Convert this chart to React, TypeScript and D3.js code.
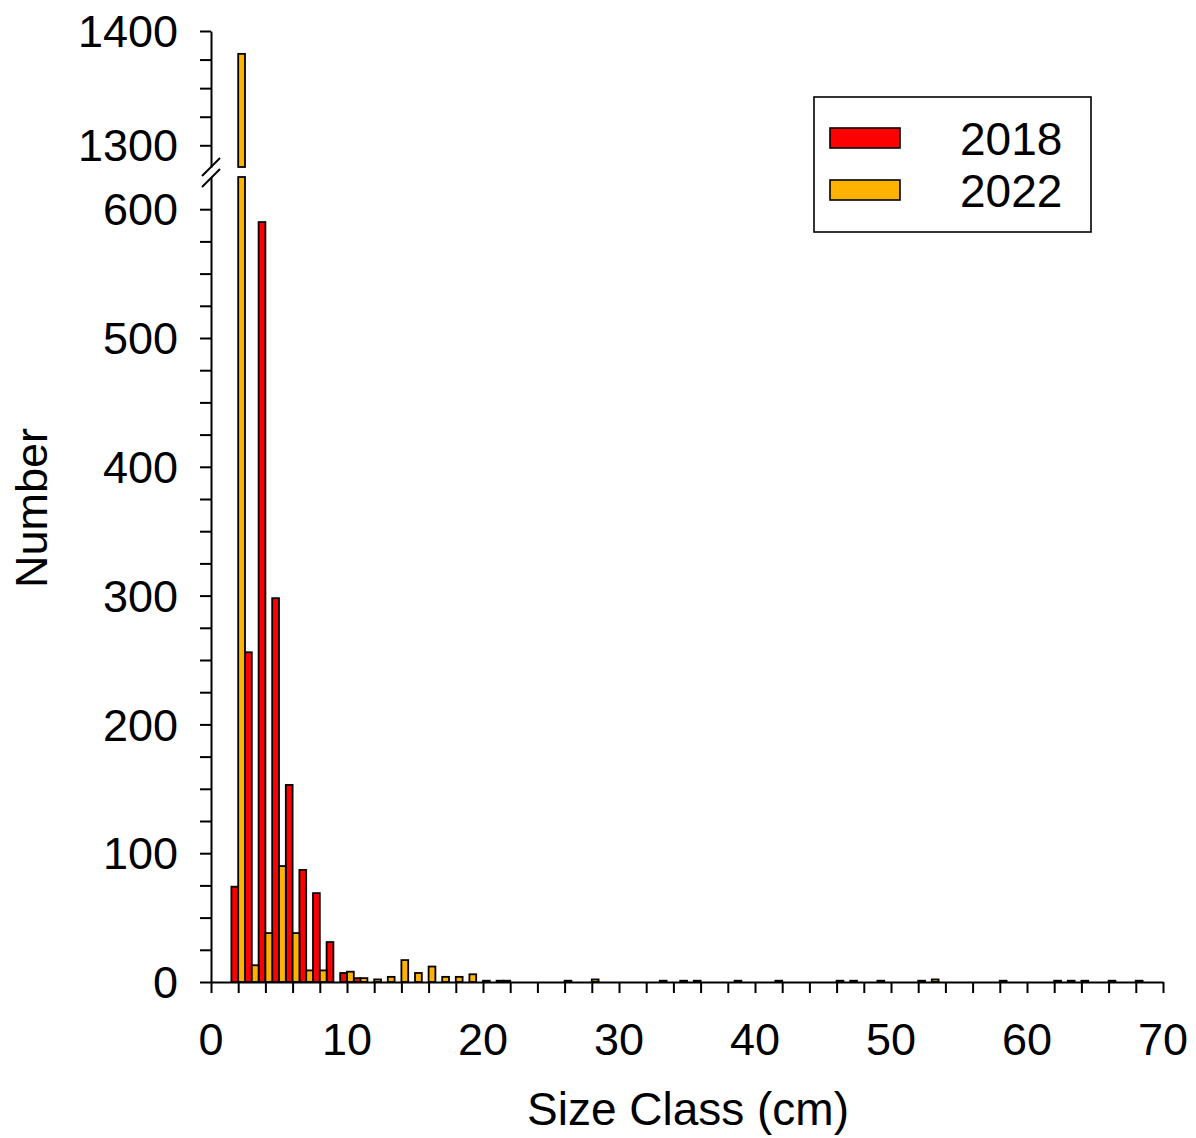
import * as d3 from "d3";
import { useEffect, useRef } from "react";

// size classes (cm) with counts, only non-zero classes listed
const classes2018 = [2, 3, 4, 5, 6, 7, 8, 9, 10, 11, 22, 35, 36, 39, 42];
const counts2018 = [74, 256, 590, 298, 153, 87, 69, 31, 7, 3, 1, 1, 1, 1, 1];

const classes2022 = [2, 3, 4, 5, 6, 7, 8, 10, 11, 12, 13, 14, 15, 16, 17, 18, 19, 20, 21, 26, 28, 33, 46, 47, 49, 52, 53, 58, 62, 63, 64, 66, 68];
const counts2022 = [1380, 13, 38, 90, 38, 9, 9, 8, 3, 2, 4, 17, 7, 12, 4, 4, 6, 1, 1, 1, 2, 1, 1, 1, 1, 1, 2, 1, 1, 1, 1, 1, 1];

const seriesNames = ["2018", "2022"];
const seriesColors = ["#ff0000", "#ffb300"];

const xLabels = [0, 10, 20, 30, 40, 50, 60, 70];
const yLowLabels = [0, 100, 200, 300, 400, 500, 600];
const yHighLabels = [1300, 1400];

export default function App() {
  const ref = useRef<SVGSVGElement | null>(null);

  useEffect(() => {
    const width = 1196;
    const height = 1138;
    const left = 211;
    const right = 1163;
    const bottom = 982;
    const font = "'Liberation Sans', Arial, sans-serif";

    const svg = d3.select(ref.current);
    svg.selectAll("*").remove();
    svg.attr("width", width).attr("height", height);

    const x = d3.scaleLinear().domain([0, 70]).range([left, right]);
    const yLow = d3.scaleLinear().domain([0, 625]).range([bottom, 177]);
    const yHigh = d3.scaleLinear().domain([1281, 1400]).range([167, 31]);

    const bw = 0.5; // each bar half a class wide

    const data2018 = classes2018.map((c, i) => ({ c, v: counts2018[i] }));
    const data2022 = classes2022.map((c, i) => ({ c, v: counts2022[i] }));

    function drawBars(data: { c: number; v: number }[], offset: number, color: string) {
      const g = svg.append("g");
      data.forEach((d) => {
        const x0 = x(d.c + offset);
        const w = x(d.c + offset + bw) - x0;
        const lowTop = yLow(Math.min(d.v, 625));
        g.append("rect")
          .attr("x", x0)
          .attr("y", lowTop)
          .attr("width", w)
          .attr("height", bottom - lowTop)
          .attr("fill", color)
          .attr("stroke", "#000")
          .attr("stroke-width", 1.8);
        if (d.v > 625) {
          const hiTop = yHigh(d.v);
          g.append("rect")
            .attr("x", x0)
            .attr("y", hiTop)
            .attr("width", w)
            .attr("height", yHigh(1281) - hiTop)
            .attr("fill", color)
            .attr("stroke", "#000")
            .attr("stroke-width", 1.8);
        }
      });
    }

    drawBars(data2018, -bw, seriesColors[0]);
    drawBars(data2022, 0, seriesColors[1]);

    // x axis
    const xAxis = d3.axisBottom(x)
      .tickValues(d3.range(0, 71, 2))
      .tickSize(11)
      .tickSizeOuter(0)
      .tickFormat(() => "");
    const gx = svg.append("g").attr("transform", `translate(0,${bottom})`).call(xAxis);
    gx.selectAll("line, path").attr("stroke", "#000").attr("stroke-width", 2);

    svg.append("g")
      .selectAll("text")
      .data(xLabels)
      .join("text")
      .attr("x", (d) => x(d))
      .attr("y", 1055)
      .attr("text-anchor", "middle")
      .attr("font-family", font)
      .attr("font-size", 45)
      .text((d) => d);

    // y axis, lower segment
    const yAxisLow = d3.axisLeft(yLow)
      .tickValues(d3.range(0, 601, 25))
      .tickSize(11)
      .tickSizeOuter(0)
      .tickFormat(() => "");
    const gyl = svg.append("g").attr("transform", `translate(${left},0)`).call(yAxisLow);
    gyl.selectAll("line, path").attr("stroke", "#000").attr("stroke-width", 2);

    // y axis, upper segment
    const yAxisHigh = d3.axisLeft(yHigh)
      .tickValues(d3.range(1300, 1401, 25))
      .tickSize(11)
      .tickSizeOuter(0)
      .tickFormat(() => "");
    const gyh = svg.append("g").attr("transform", `translate(${left},0)`).call(yAxisHigh);
    gyh.selectAll("line, path").attr("stroke", "#000").attr("stroke-width", 2);

    const yText = svg.append("g")
      .attr("font-family", font)
      .attr("font-size", 45)
      .attr("text-anchor", "end");
    yLowLabels.forEach((d) => {
      yText.append("text").attr("x", 178).attr("y", yLow(d)).attr("dy", "0.36em").text(d);
    });
    yHighLabels.forEach((d) => {
      yText.append("text").attr("x", 178).attr("y", yHigh(d)).attr("dy", "0.36em").text(d);
    });

    // break marks
    [[176, 158], [187, 169]].forEach(([y1, y2]) => {
      svg.append("line")
        .attr("x1", 202).attr("y1", y1)
        .attr("x2", 220).attr("y2", y2)
        .attr("stroke", "#000")
        .attr("stroke-width", 2);
    });

    // axis titles
    svg.append("text")
      .attr("x", 688)
      .attr("y", 1125)
      .attr("text-anchor", "middle")
      .attr("font-family", font)
      .attr("font-size", 46)
      .text("Size Class (cm)");

    svg.append("text")
      .attr("transform", `translate(47,508) rotate(-90)`)
      .attr("text-anchor", "middle")
      .attr("font-family", font)
      .attr("font-size", 45)
      .text("Number");

    // legend
    const lg = svg.append("g");
    lg.append("rect")
      .attr("x", 814).attr("y", 97)
      .attr("width", 277).attr("height", 135)
      .attr("fill", "#fff")
      .attr("stroke", "#000")
      .attr("stroke-width", 1.6);
    seriesNames.forEach((name, i) => {
      const cy = 138 + i * 52;
      lg.append("rect")
        .attr("x", 830).attr("y", cy - 10)
        .attr("width", 70).attr("height", 20)
        .attr("fill", seriesColors[i])
        .attr("stroke", "#000")
        .attr("stroke-width", 1.6);
      lg.append("text")
        .attr("x", 960).attr("y", cy)
        .attr("dy", "0.36em")
        .attr("font-family", font)
        .attr("font-size", 46)
        .text(name);
    });
  }, []);

  return <svg ref={ref} style={{ position: "absolute", left: 0, top: 0, background: "#fff" }} />;
}
